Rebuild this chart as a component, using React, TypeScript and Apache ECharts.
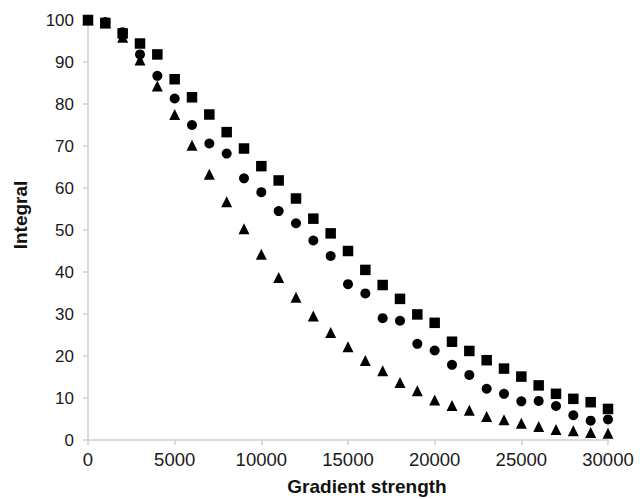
import React, { useEffect, useRef } from "react";
import * as echarts from "echarts";

const gradientStrength = [0, 1000, 2000, 3000, 4000, 5000, 6000, 7000, 8000, 9000, 10000, 11000, 12000, 13000, 14000, 15000, 16000, 17000, 18000, 19000, 20000, 21000, 22000, 23000, 24000, 25000, 26000, 27000, 28000, 29000, 30000];

const squareValues = [100, 99.3, 96.8, 94.4, 91.8, 85.9, 81.6, 77.5, 73.3, 69.4, 65.2, 61.8, 57.5, 52.7, 49.2, 45.0, 40.5, 36.9, 33.6, 29.9, 27.9, 23.4, 21.2, 19.0, 17.0, 15.1, 13.0, 11.0, 9.8, 9.0, 7.4];
const circleValues = [100, 99.5, 97.1, 91.8, 86.7, 81.3, 75.0, 70.6, 68.2, 62.3, 59.0, 54.5, 51.6, 47.5, 43.8, 37.1, 34.9, 29.0, 28.4, 22.9, 21.3, 17.9, 15.5, 12.2, 11.0, 9.2, 9.3, 8.1, 5.9, 4.6, 4.9];
const triangleValues = [100, 99.3, 95.9, 90.5, 84.3, 77.5, 70.2, 63.3, 56.7, 50.3, 44.2, 38.7, 34.0, 29.5, 25.6, 22.2, 18.9, 16.5, 13.7, 11.7, 9.5, 8.2, 7.1, 5.6, 4.8, 4.0, 3.2, 2.5, 2.2, 1.8, 1.6];

const xTitle = "Gradient strength";
const yTitle = "Integral";

const pairs = (vals: number[]) => gradientStrength.map((x, i) => [x, vals[i]]);

export default function App() {
  const ref = useRef<HTMLDivElement>(null);
  useEffect(() => {
    if (!ref.current) return;
    const chart = echarts.init(ref.current, null, { renderer: "svg" });
    const axisColor = "#cfcfcf";
    const font = "'Liberation Sans', Arial, sans-serif";
    chart.setOption({
      animation: false,
      backgroundColor: "#ffffff",
      grid: { left: 88, right: 36, top: 20, bottom: 59 },
      xAxis: {
        type: "value",
        min: 0,
        max: 30000,
        interval: 5000,
        axisLine: { show: true, lineStyle: { color: axisColor, width: 1.5 } },
        axisTick: { show: true, length: 5, lineStyle: { color: axisColor, width: 1.5 } },
        splitLine: { show: false },
        axisLabel: { color: "#1a1a1a", fontSize: 18.5, fontFamily: font, margin: 10, formatter: (v: number) => String(v) },
      },
      yAxis: {
        type: "value",
        min: 0,
        max: 100,
        interval: 10,
        axisLine: { show: true, lineStyle: { color: axisColor, width: 1.5 } },
        axisTick: { show: true, length: 5, lineStyle: { color: axisColor, width: 1.5 } },
        splitLine: { show: false },
        axisLabel: { color: "#1a1a1a", fontSize: 17, fontFamily: font, margin: 14 },
      },
      graphic: [
        {
          type: "text",
          x: 367,
          y: 486,
          style: { text: xTitle, fontSize: 19, fontWeight: "bold", fontFamily: font, fill: "#111", align: "center", verticalAlign: "middle" },
        },
        {
          type: "text",
          x: 20,
          y: 215,
          rotation: Math.PI / 2,
          style: { text: yTitle, fontSize: 19, fontWeight: "bold", fontFamily: font, fill: "#111", align: "center", verticalAlign: "middle" },
        },
      ],
      series: [
        {
          type: "scatter",
          name: "square",
          symbol: "rect",
          symbolSize: 10.5,
          itemStyle: { color: "#000", opacity: 1 },
          data: pairs(squareValues),
        },
        {
          type: "scatter",
          name: "circle",
          symbol: "circle",
          symbolSize: 10,
          itemStyle: { color: "#000", opacity: 1 },
          data: pairs(circleValues),
        },
        {
          type: "scatter",
          name: "triangle",
          symbol: "triangle",
          symbolSize: 11,
          itemStyle: { color: "#000", opacity: 1 },
          data: pairs(triangleValues),
        },
      ],
    });
    return () => chart.dispose();
  }, []);
  return <div ref={ref} style={{ position: "absolute", left: 0, top: 0, width: 644, height: 499 }} />;
}
